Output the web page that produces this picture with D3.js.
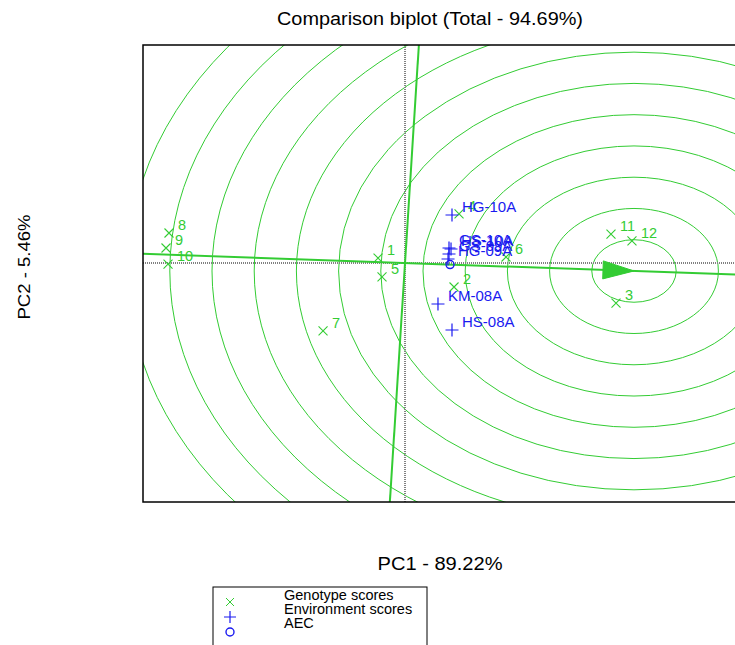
<!DOCTYPE html>
<html><head><meta charset="utf-8">
<script src="https://cdn.jsdelivr.net/npm/d3@7"></script>
<style>html,body{margin:0;padding:0;background:#fff;}svg{display:block;}</style>
</head><body>
<svg id="c" width="735" height="645"></svg>
<script>
// ---- data (PC scores in biplot units) ----
const genotypeNames = ["1","2","3","4","5","6","7","8","9","10","11","12"];
const genotypePC1   = [-0.333, 0.605, 2.605, 0.667, -0.284, 1.247, -1.012, -2.914, -2.951, -2.926, 2.543, 2.802];
const genotypePC2   = [ 0.083,-0.400,-0.667, 0.817, -0.233, 0.100, -1.133,  0.500,  0.250, -0.017, 0.483, 0.367];
const envNames = ["HG-10A","GS-10A","HS-10A","GS-09A","HG-09A","KM-08A","HS-08A"];
const envPC1   = [0.580, 0.543, 0.568, 0.543, 0.531, 0.407, 0.580];
const envPC2   = [0.800, 0.250, 0.233, 0.150, 0.067,-0.683,-1.117];
const aecPoint = [0.556, -0.026];      // average environment
const idealPoint = [2.827, -0.133];    // ideal genotype (centre of circles)
const ringStep = 0.521;
const ringCount = 12;
const legendLabels = ["Genotype scores","Environment scores","AEC"];
const titleText = "Comparison biplot (Total - 94.69%)";
const xLabel = "PC1 - 89.22%";
const yLabel = "PC2 - 5.46%";

const GREEN = "#33cc33", BLUE = "#1a1af0";
const svg = d3.select("#c");
const L = 143, R = 755, T = 45, B = 502;
const x = d3.scaleLinear().domain([-3.235, 4.321]).range([L, R]);
const y = d3.scaleLinear().domain([-3.983, 3.633]).range([B, T]);

svg.append("defs").append("clipPath").attr("id","clip")
  .append("rect").attr("x",L).attr("y",T).attr("width",R-L).attr("height",B-T);
const plot = svg.append("g").attr("clip-path","url(#clip)");

// concentric circles around ideal genotype
const rings = d3.range(1, ringCount + 1).map(i => i * ringStep);
plot.selectAll("ellipse.ring").data(rings).join("ellipse")
  .attr("class","ring")
  .attr("cx", x(idealPoint[0])).attr("cy", y(idealPoint[1]))
  .attr("rx", r => x(idealPoint[0] + r) - x(idealPoint[0]))
  .attr("ry", r => y(idealPoint[1]) - y(idealPoint[1] + r))
  .attr("fill","none").attr("stroke",GREEN).attr("stroke-width",1);

// dotted axes
plot.append("line").attr("x1",x(0)).attr("x2",x(0)).attr("y1",T).attr("y2",B)
  .attr("stroke","#808080").attr("stroke-width",2).attr("stroke-dasharray","1,1");
plot.append("line").attr("x1",L).attr("x2",R).attr("y1",y(0)).attr("y2",y(0))
  .attr("stroke","#808080").attr("stroke-width",2).attr("stroke-dasharray","1,1");

// AEC abscissa and ordinate
const big = 20;
const [ix, iy] = idealPoint;
plot.append("line")
  .attr("x1", x(-ix*big)).attr("y1", y(-iy*big))
  .attr("x2", x(ix*big)).attr("y2", y(iy*big))
  .attr("stroke",GREEN).attr("stroke-width",2);
plot.append("line")
  .attr("x1", x(-iy*big)).attr("y1", y(ix*big))
  .attr("x2", x(iy*big)).attr("y2", y(-ix*big))
  .attr("stroke",GREEN).attr("stroke-width",2);

// arrow head at ideal point
{
  const tx = x(ix), ty = y(iy), ox = x(0), oy = y(0);
  const len = Math.hypot(tx-ox, ty-oy);
  const ux = (tx-ox)/len, uy = (ty-oy)/len;
  const bx = tx - 31*ux, by = ty - 31*uy;
  const px = -uy, py = ux;
  plot.append("path")
    .attr("d", `M${tx},${ty}L${bx+9*px},${by+9*py}L${bx-9*px},${by-9*py}Z`)
    .attr("fill",GREEN).attr("stroke",GREEN);
}

// markers
const crossPath = s => `M${-s},${-s}L${s},${s}M${-s},${s}L${s},${-s}`;
const plusPath = s => `M${-s},0L${s},0M0,${-s}L0,${s}`;

const gData = genotypeNames.map((n,i) => ({n, a: genotypePC1[i], b: genotypePC2[i]}));
const eData = envNames.map((n,i) => ({n, a: envPC1[i], b: envPC2[i]}));

plot.selectAll("path.g").data(gData).join("path").attr("class","g")
  .attr("transform", d => `translate(${x(d.a)},${y(d.b)})`)
  .attr("d", crossPath(4.5)).attr("stroke",GREEN).attr("stroke-width",1.1).attr("fill","none");
plot.selectAll("text.g").data(gData).join("text").attr("class","g")
  .attr("x", d => x(d.a) + 9).attr("y", d => y(d.b) - 3)
  .attr("font-family","Liberation Sans, Arial, sans-serif").attr("font-size",14.5)
  .attr("fill",GREEN).text(d => d.n);

plot.append("circle").attr("cx", x(aecPoint[0])).attr("cy", y(aecPoint[1])).attr("r",4)
  .attr("fill","none").attr("stroke",BLUE).attr("stroke-width",1.4);

plot.selectAll("path.e").data(eData).join("path").attr("class","e")
  .attr("transform", d => `translate(${x(d.a)},${y(d.b)})`)
  .attr("d", plusPath(6.5)).attr("stroke",BLUE).attr("stroke-width",1.2).attr("fill","none");
plot.selectAll("text.e").data(eData).join("text").attr("class","e")
  .attr("x", d => x(d.a) + 10).attr("y", d => y(d.b) - 3)
  .attr("font-family","Liberation Sans, Arial, sans-serif").attr("font-size",15)
  .attr("fill",BLUE).text(d => d.n);

// frame
svg.append("rect").attr("x",L).attr("y",T).attr("width",R-L).attr("height",B-T)
  .attr("fill","none").attr("stroke","#000").attr("stroke-width",1.5);

// titles
const FONT = "Liberation Sans, Arial, sans-serif";
svg.append("text").attr("x",430).attr("y",25).attr("text-anchor","middle")
  .attr("font-family",FONT).attr("font-size",17.5).attr("textLength",306).attr("lengthAdjust","spacingAndGlyphs")
  .text(titleText);
svg.append("text").attr("x",440).attr("y",570).attr("text-anchor","middle")
  .attr("font-family",FONT).attr("font-size",17.5).attr("textLength",125).attr("lengthAdjust","spacingAndGlyphs")
  .text(xLabel);
svg.append("text").attr("transform","translate(30,267) rotate(-90)").attr("text-anchor","middle")
  .attr("font-family",FONT).attr("font-size",16.5).attr("textLength",105).attr("lengthAdjust","spacingAndGlyphs")
  .text(yLabel);

// legend
const lg = svg.append("g");
lg.append("rect").attr("x",213).attr("y",587).attr("width",214).attr("height",80)
  .attr("fill","none").attr("stroke","#000").attr("stroke-width",1);
const legY = [602, 617, 632];
lg.append("path").attr("transform",`translate(230,${legY[0]})`).attr("d",crossPath(4))
  .attr("stroke",GREEN).attr("fill","none");
lg.append("path").attr("transform",`translate(230,${legY[1]})`).attr("d",plusPath(6))
  .attr("stroke",BLUE).attr("fill","none").attr("stroke-width",1.2);
lg.append("circle").attr("cx",230).attr("cy",legY[2]).attr("r",4)
  .attr("stroke",BLUE).attr("fill","none").attr("stroke-width",1.4);
lg.selectAll("text").data(legendLabels).join("text")
  .attr("x",284).attr("y",(d,i) => 600 + i*14)
  .attr("font-family",FONT).attr("font-size",14.5).text(d => d);
</script>
</body></html>
